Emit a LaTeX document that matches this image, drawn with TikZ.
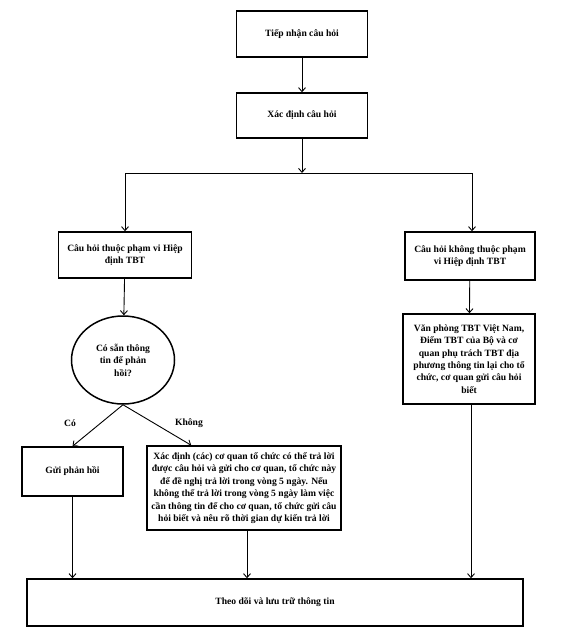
\documentclass[tikz,border=0pt]{standalone}
\usepackage{fontspec}
\setmainfont{Liberation Serif}
\usetikzlibrary{arrows.meta,shapes.geometric,calc}
\tikzset{
  box/.style={draw,line width=1.5pt,rectangle,align=center,inner sep=2pt,
    font=\fontsize{9.6}{12.4}\selectfont\bfseries},
  oval/.style={draw,line width=1.5pt,ellipse,align=center,inner sep=0pt,
    font=\fontsize{9.6}{12.4}\selectfont\bfseries},
  lbl/.style={font=\fontsize{9.6}{12.4}\selectfont\bfseries,inner sep=1pt},
  arr/.style={line width=0.9pt,-{Straight Barb[length=4pt,width=7pt,line width=0.9pt]}},
  ln/.style={line width=0.9pt}
}
\begin{document}
\begin{tikzpicture}[x=1pt,y=-1pt]
\useasboundingbox (0,0) rectangle (568,639);
\node[box,minimum width=131pt,minimum height=46pt] (b1) at (302,34) {Tiếp nhận câu hỏi};
\node[box,minimum width=131pt,minimum height=45pt] (b2) at (302,115.5) {Xác định câu hỏi};
\coordinate (j) at (302,173);
\node[box,minimum width=133pt,minimum height=46pt] (q1) at (125,255) {Câu hỏi thuộc phạm vi Hiệp\\định TBT};
\node[box,minimum width=130pt,minimum height=48pt] (q2) at (470,256) {Câu hỏi không thuộc phạm\\vi Hiệp định TBT};
\node[oval,minimum width=103pt,minimum height=88pt] (e) at (123,360) {Có sẵn thông\\tin để phản\\hồi?};
\node[box,minimum width=132pt,minimum height=90pt] (vp) at (469,359) {Văn phòng TBT Việt Nam,\\Điểm TBT của Bộ và cơ\\quan phụ trách TBT địa\\phương thông tin lại cho tổ\\chức, cơ quan gửi câu hỏi\\biết};
\node[box,minimum width=101pt,minimum height=49pt] (g) at (72.5,471.5) {Gửi phản hồi};
\node[box,minimum width=194pt,minimum height=84pt] (x) at (244,488) {Xác định (các) cơ quan tổ chức có thể trả lời\\được câu hỏi và gửi cho cơ quan, tổ chức này\\để đề nghị trả lời trong vòng 5 ngày. Nếu\\không thể trả lời trong vòng 5 ngày làm việc\\cần thông tin để cho cơ quan, tổ chức gửi câu\\hỏi biết và nêu rõ thời gian dự kiến trả lời};
\node[box,minimum width=496pt,minimum height=47pt] (f) at (275,602.5) {Theo dõi và lưu trữ thông tin};
\node[lbl] (lc) at (70,423) {Có};
\node[lbl] (lk) at (189,423) {Không};
\draw[arr] (b1) -- (b2);
\draw[arr] (b2) -- (j);
\draw[arr] (j) -| (q1.north);
\draw[arr] (j) -| ([xshift=2pt]q2.north);
\draw[arr] (q1) -- (e);
\draw[arr] (q2) -- (vp);
\draw[arr] (e.south) -- (g.north);
\draw[arr] (e.south) -- ($(x.north west)!0.23!(x.north east)$);
\draw[arr] (g.south) -- (g.south |- f.north);
\draw[arr] ([xshift=3pt]x.south) -- ([xshift=3pt]x.south |- f.north);
\draw[arr] ([xshift=2pt]vp.south) -- ([xshift=2pt]vp.south |- f.north);
\end{tikzpicture}
\end{document}
